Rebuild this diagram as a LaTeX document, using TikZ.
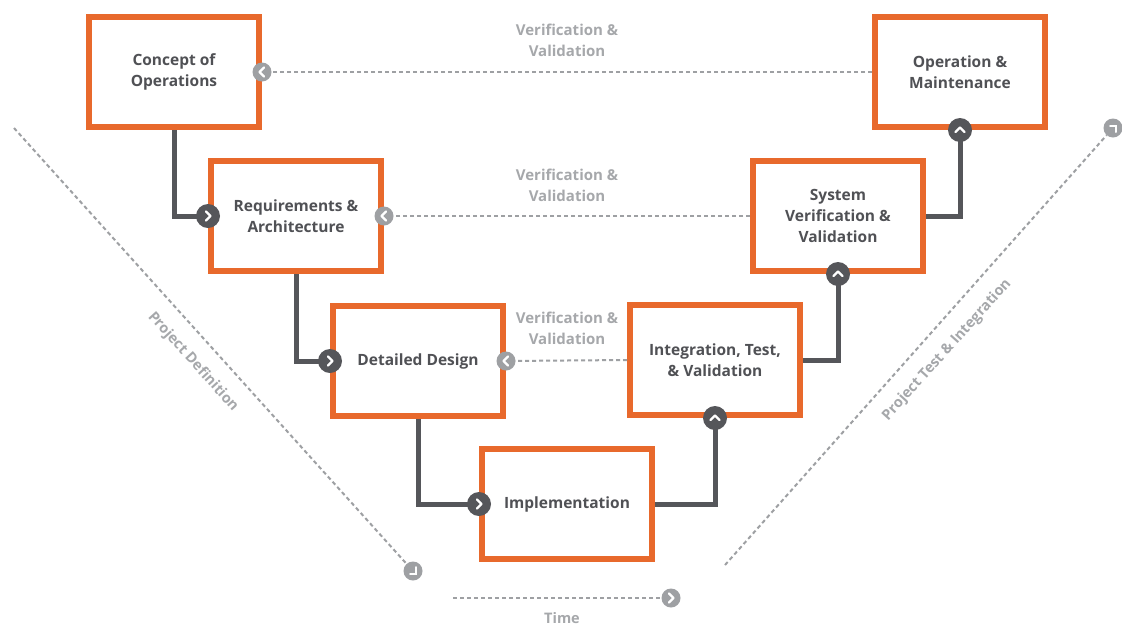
\documentclass[tikz,border=0pt]{standalone}
\usepackage{fontspec}
\setmainfont{Open Sans}
\usetikzlibrary{calc}
\definecolor{vorange}{HTML}{E8692C}
\definecolor{tgray}{HTML}{505155}
\definecolor{cgray}{HTML}{55565A}
\definecolor{dgray}{HTML}{9EA0A3}
\definecolor{lgray}{HTML}{A6A8AB}
\tikzset{
  stage/.style={draw=vorange, line width=6pt, fill=white, minimum width=170pt, minimum height=110pt,
    inner sep=0pt, align=center, text=tgray, font=\fontsize{15.5}{21}\selectfont\bfseries},
  conn/.style={draw=cgray, line width=5pt},
  dashline/.style={draw=dgray, line width=2pt, dash pattern=on 4pt off 3pt},
  darkdot/.style={circle, fill=cgray, minimum size=24pt, inner sep=0pt},
  graydot/.style={circle, fill=dgray, minimum size=19pt, inner sep=0pt},
  chev/.style={draw=white, line width=2.4pt, line cap=round, line join=round},
  vvlabel/.style={text=lgray, align=center, font=\fontsize{15}{21}\selectfont\bfseries},
  phase/.style={text=lgray, font=\fontsize{14.5}{16}\selectfont\bfseries},
}
\begin{document}
\begin{tikzpicture}[x=1pt,y=-1pt]
\useasboundingbox[fill=white] (0,0) rectangle (1122,625);

% stages
\node[stage] (cop) at (174,72) {Concept of\\Operations};
\node[stage] (req) at (296,216) {Requirements \&\\Architecture};
\node[stage] (dd) at (418,361) {Detailed Design};
\node[stage] (imp) at (567,504) {Implementation};
\node[stage] (itv) at (715,360) {Integration, Test,\\\& Validation};
\node[stage] (svv) at (838,216) {System\\Verification \&\\Validation};
\node[stage] (om) at (960,72) {Operation \&\\Maintenance};

% V&V dotted links
\draw[dashline] (om.west) -- (cop.east);
\draw[dashline] (svv.west) -- (req.east);
\draw[dashline] (itv.west) -- (dd.east);
\node[graydot] (g1) at (cop.east) {};
\node[graydot] (g2) at (req.east) {};
\node[graydot] (g3) at (dd.east) {};
\foreach \g in {g1,g2,g3}
  \draw[chev] ($(\g)+(2,-4.5)$) -- ($(\g)+(-2.5,0)$) -- ($(\g)+(2,4.5)$);

\node[vvlabel] (vv1) at (567,40) {Verification \&\\Validation};
\node[vvlabel] (vv2) at (567,185) {Verification \&\\Validation};
\node[vvlabel] (vv3) at (567,328) {Verification \&\\Validation};

% descending connectors
\draw[conn] (cop.south) |- (req.west);
\draw[conn] (req.south) |- (dd.west);
\draw[conn] (dd.south) |- (imp.west);
\node[darkdot] (d1) at (req.west) {};
\node[darkdot] (d2) at (dd.west) {};
\node[darkdot] (d3) at (imp.west) {};
\foreach \d in {d1,d2,d3}
  \draw[chev] ($(\d)+(-2,-4.5)$) -- ($(\d)+(2.5,0)$) -- ($(\d)+(-2,4.5)$);

% ascending connectors
\draw[conn] (imp.east) -| (itv.south);
\draw[conn] (itv.east) -| (svv.south);
\draw[conn] (svv.east) -| (om.south);
\node[darkdot] (u1) at (itv.south) {};
\node[darkdot] (u2) at (svv.south) {};
\node[darkdot] (u3) at (om.south) {};
\foreach \u in {u1,u2,u3}
  \draw[chev] ($(\u)+(-4.5,2)$) -- ($(\u)+(0,-2.5)$) -- ($(\u)+(4.5,2)$);

% project definition diagonal
\coordinate (pds) at (14,128);
\node[graydot] (pde) at (413,571) {};
\draw[dashline] (pds) -- (pde);
\draw[draw=white, line width=2pt, line cap=round] ($(pde)+(2.5,-4)$) -- ($(pde)+(2.5,2.5)$) -- ($(pde)+(-3,2.5)$);
\node[phase, rotate=-48] (pdl) at (193,362) {Project Definition};

% project test & integration diagonal
\coordinate (pts) at (725,565);
\node[graydot] (pte) at (1113,128) {};
\draw[dashline] (pts) -- (pte);
\draw[draw=white, line width=2pt, line cap=round] ($(pte)+(-3,-2.5)$) -- ($(pte)+(2.5,-2.5)$) -- ($(pte)+(2.5,4)$);
\node[phase, rotate=48] (ptl) at (947,350) {Project Test \& Integration};

% time
\coordinate (ts) at (453,598);
\node[graydot] (te) at (671,598) {};
\draw[dashline] (ts) -- (te);
\draw[chev] ($(te)+(-2,-4.5)$) -- ($(te)+(2.5,0)$) -- ($(te)+(-2,4.5)$);
\node[phase] (tl) at (562,618) {Time};
\end{tikzpicture}
\end{document}
